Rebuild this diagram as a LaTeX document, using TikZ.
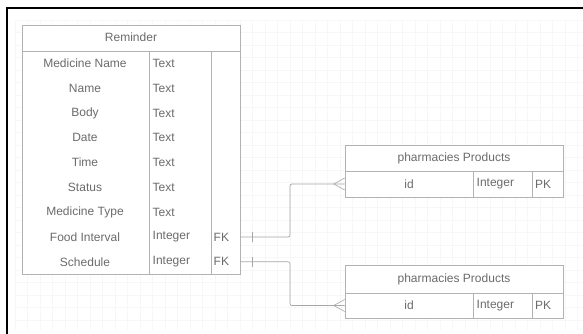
\documentclass[tikz,border=0pt]{standalone}
\usepackage{fontspec}
\setmainfont{Liberation Sans}
\usetikzlibrary{calc}
\begin{document}
\begin{tikzpicture}[x=1pt,y=-1pt,
  tbl/.style={draw=gray!60, line width=0.6pt, rectangle, inner sep=0pt, fill=white},
  txt/.style={text=black!58, font=\fontsize{12}{14}\selectfont, inner sep=0pt},
  sep/.style={draw=gray!60, line width=0.6pt},
  conn/.style={draw=gray!70, line width=0.7pt, rounded corners=2pt},
  endmark/.style={draw=gray!70, line width=0.6pt}
]
\useasboundingbox (0,0) rectangle (583,334);
\fill[white] (0,0) rectangle (583,334);
% faint grid
\foreach \gx in {15,27.5,...,583} \draw[gray!6, line width=0.4pt] (\gx,20) -- (\gx,330);
\foreach \gy in {20,32.5,...,330} \draw[gray!6, line width=0.4pt] (15,\gy) -- (583,\gy);
% outer black frame (top and left visible)
\draw[black, line width=2.4pt] (7,334) -- (7,8) -- (583,8);

% Reminder table
\node[tbl, minimum width=218pt, minimum height=249pt] (rem) at (131,149.5) {};
\node[txt] (remh) at (131,37.5) {Reminder};
\draw[sep, line width=0.9pt] (22,51) -- (240,51);
\draw[sep] (149,51) -- (149,274);
\draw[sep] (211,51) -- (211,274);
\foreach \n/\lab/\typ [count=\i from 0] in {a/Medicine Name/Text, b/Name/Text, c/Body/Text, d/Date/Text, e/Time/Text, f/Status/Text, g/Medicine Type/Text, h/Food Interval/Integer, k/Schedule/Integer}{
  \node[txt] (rn\n) at (85,{63.4+24.8*\i}) {\lab};
  \node[txt, anchor=west] (rt\n) at (152.5,{63.4+24.8*\i}) {\typ};
}
\node[txt, anchor=west] (fkA) at (213.5,237) {FK};
\node[txt, anchor=west] (fkB) at (213.5,261.8) {FK};

% pharmacies Products 1
\node[tbl, minimum width=218pt, minimum height=52pt] (p1) at (454,171) {};
\node[txt] (p1h) at (454,158) {pharmacies Products};
\draw[sep] (345,171) -- (563,171);
\draw[sep] (473,171) -- (473,197);
\draw[sep] (532,171) -- (532,197);
\node[txt] (p1id) at (409,184) {id};
\node[txt, anchor=west] (p1t) at (476.5,184) {Integer};
\node[txt, anchor=west] (p1k) at (535,184) {PK};

% pharmacies Products 2
\node[tbl, minimum width=218pt, minimum height=53pt] (p2) at (454,291.5) {};
\node[txt] (p2h) at (454,279) {pharmacies Products};
\draw[sep] (345,293) -- (563,293);
\draw[sep] (473,293) -- (473,318);
\draw[sep] (532,293) -- (532,318);
\node[txt] (p2id) at (409,305.5) {id};
\node[txt, anchor=west] (p2t) at (476.5,305.5) {Integer};
\node[txt, anchor=west] (p2k) at (535,305.5) {PK};

% connectors
\coordinate (s1) at (rem.east |- fkA);
\coordinate (e1) at (p1.west |- p1id);
\coordinate (s2) at (rem.east |- fkB);
\coordinate (e2) at (p2.west |- p2id);
\draw[conn] (s1) -- (290,237) -- (290,184) -- (e1);
\draw[conn] (s2) -- (290,261.8) -- (290,305.5) -- (e2);
% one marks
\draw[endmark] ($(s1)+(12,-5)$) -- ($(s1)+(12,5)$);
\draw[endmark] ($(s2)+(12,-5)$) -- ($(s2)+(12,5)$);
% crow's feet
\foreach \e in {e1,e2}{
  \draw[endmark] ($(\e)+(-11,0)$) -- ($(\e)+(0,-6)$);
  \draw[endmark] ($(\e)+(-11,0)$) -- ($(\e)+(0,6)$);
}
\end{tikzpicture}
\end{document}
